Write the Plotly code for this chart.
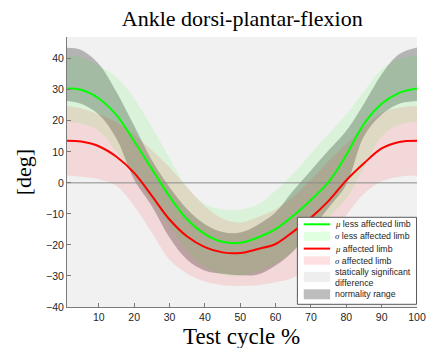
import plotly.graph_objects as go

# ---------------- data ----------------
x_pct = [1, 5, 10, 15, 20, 25, 30, 35, 40, 45, 50, 55, 60, 65, 70, 75, 80, 85, 90, 95, 100]

mu_less = [30.4, 30.0, 27.2, 21.8, 13.4, 4.5, -4.4, -11.8, -16.5, -19.0, -19.3, -17.6,
           -14.9, -10.6, -5.5, 0.3, 9.0, 19.0, 25.5, 29.0, 30.4]
sd_less_hi = [41.0, 40.5, 37.7, 34.0, 27.2, 18.0, 8.0, -1.5, -6.8, -8.6, -8.6, -7.0,
              -2.5, 3.0, 9.5, 15.8, 22.0, 29.5, 36.7, 40.0, 41.0]
sd_less_lo = [19.6, 19.1, 16.8, 10.0, 2.5, -6.0, -14.0, -22.0, -27.0, -29.5, -30.0, -28.5,
              -26.0, -22.0, -17.0, -11.0, -5.0, 5.0, 15.0, 18.8, 19.6]

mu_aff = [13.6, 13.3, 11.8, 8.4, 3.2, -4.2, -11.8, -17.3, -20.7, -22.4, -22.6, -21.3,
          -19.7, -15.7, -11.2, -5.8, 0.8, 6.3, 11.1, 13.2, 13.6]
sd_aff_hi = [24.8, 24.0, 22.1, 19.5, 15.5, 10.5, 5.0, -1.5, -7.5, -11.5, -12.8, -11.0,
             -8.5, -4.5, 1.0, 7.0, 12.5, 18.0, 22.5, 24.3, 24.8]
sd_aff_lo = [2.4, 2.0, 1.2, -1.0, -7.5, -16.0, -24.8, -29.3, -31.8, -33.0, -33.2, -33.0,
             -32.0, -30.5, -25.0, -18.0, -10.5, -3.5, 0.5, 2.0, 2.4]

norm_hi = [43.5, 42.8, 38.3, 29.3, 18.4, 7.3, -1.4, -8.5, -13.3, -15.8, -16.0, -13.5,
           -9.5, -2.5, 4.0, 10.5, 16.8, 25.5, 35.0, 41.5, 43.6]
norm_lo = [26.4, 25.5, 22.0, 14.2, 1.0, -7.5, -17.6, -24.8, -28.3, -29.3, -29.8, -29.5,
           -26.6, -22.0, -15.0, -8.0, -0.5, 15.0, 22.0, 25.5, 26.4]

# statistically significant difference interval (whole cycle)
sig_x = [1, 100]

x_ticks = [10, 20, 30, 40, 50, 60, 70, 80, 90, 100]
y_ticks = [-40, -30, -20, -10, 0, 10, 20, 30, 40]
x_range = [1, 100]
y_range = [-40, 47]

# ---------------- styles ----------------
C_SIG = "#f1f1f1"
C_NORM = "rgba(0,0,0,0.25)"
C_GF = "rgba(0,255,0,0.095)"
C_RF = "rgba(255,0,0,0.10)"
C_G = "#00ff00"
C_R = "#ff0000"
SANS = "Liberation Sans, Arial, sans-serif"
SERIF = "Liberation Serif, Times New Roman, serif"

fig = go.Figure()

def band(xs, lo, hi, color):
    fig.add_trace(go.Scatter(x=xs, y=lo, mode="lines", line=dict(width=0, shape="spline"),
                             hoverinfo="skip", showlegend=False))
    fig.add_trace(go.Scatter(x=xs, y=hi, mode="lines", line=dict(width=0, shape="spline"),
                             fill="tonexty", fillcolor=color, hoverinfo="skip", showlegend=False))

# significance region
band(sig_x, [y_range[0]] * len(sig_x), [y_range[1]] * len(sig_x), C_SIG)
# normality range
band(x_pct, norm_lo, norm_hi, C_NORM)
# sigma bands
band(x_pct, sd_less_lo, sd_less_hi, C_GF)
band(x_pct, sd_aff_lo, sd_aff_hi, C_RF)

# zero reference line
fig.add_trace(go.Scatter(x=x_range, y=[0, 0], mode="lines",
                         line=dict(color="#8a8a8a", width=1), showlegend=False, hoverinfo="skip"))

# means
fig.add_trace(go.Scatter(x=x_pct, y=mu_less, mode="lines",
                         line=dict(color=C_G, width=2, shape="spline"), showlegend=False))
fig.add_trace(go.Scatter(x=x_pct, y=mu_aff, mode="lines",
                         line=dict(color=C_R, width=2, shape="spline"), showlegend=False))

# ---------------- layout ----------------
W, H = 434, 348
ML, MR, MT, MB = 67, 8.5, 36.7, 41.3
PX0, PX1 = ML, W - MR
PY0, PY1 = MT, H - MB

def px(xp):
    return (xp - PX0) / (PX1 - PX0)

def py(yp):
    return (PY1 - yp) / (PY1 - PY0)

axis_common = dict(showline=True, linecolor="#7a7a7a", linewidth=1, ticks="inside",
                   ticklen=4, tickcolor="#7a7a7a", showgrid=False, zeroline=False,
                   tickfont=dict(family=SANS, size=10.5, color="#262626"), mirror=False)

fig.update_layout(
    width=W, height=H,
    margin=dict(l=ML, r=MR, t=MT, b=MB, pad=0),
    paper_bgcolor="white", plot_bgcolor="white",
    showlegend=False,
    xaxis=dict(range=x_range, tickvals=x_ticks, **axis_common),
    yaxis=dict(range=y_range, tickvals=y_ticks, **axis_common),
    title=dict(text="Ankle dorsi-plantar-flexion", x=px(246.5), xref="paper", xanchor="center",
               y=1 - 18.5 / H, yref="container", yanchor="middle",
               font=dict(family=SERIF, size=22, color="black")),
)

shapes = []
annotations = []

# axis titles
annotations.append(dict(text="Test cycle %", x=px(246), y=py(336), xref="paper", yref="paper",
                        xanchor="center", yanchor="middle", showarrow=False,
                        font=dict(family=SERIF, size=23, color="black")))
annotations.append(dict(text="[deg]", x=px(22), y=py(172), xref="paper", yref="paper",
                        xanchor="center", yanchor="middle", showarrow=False, textangle=-90,
                        font=dict(family=SERIF, size=22, color="black")))

# custom compact legend
shapes.append(dict(type="rect", xref="paper", yref="paper", x0=px(303), x1=px(425), y0=py(304), y1=py(217),
                   fillcolor="white", line=dict(color="#5a5a5a", width=1), layer="above"))
SX0, SX1, TX = 309.5, 336.5, 339.0

def leg_line(yc, color):
    shapes.append(dict(type="line", xref="paper", yref="paper", x0=px(SX0), x1=px(SX1), y0=py(yc), y1=py(yc),
                       line=dict(color=color, width=2), layer="above"))

def leg_rect(ya, yb, color):
    shapes.append(dict(type="rect", xref="paper", yref="paper", x0=px(SX0), x1=px(SX1), y0=py(yb), y1=py(ya),
                       fillcolor=color, line=dict(width=0), layer="above"))

def leg_text(yc, txt):
    annotations.append(dict(text=txt, x=px(TX), y=py(yc), xref="paper", yref="paper",
                            xanchor="left", yanchor="middle", showarrow=False,
                            font=dict(family=SANS, size=8.8, color="#262626")))

MU = "<span style='font-family:Liberation Serif, serif;font-style:italic'>μ</span>"
SG = "<span style='font-family:Liberation Serif, serif;font-style:italic'>σ</span>"

leg_line(224, C_G)
leg_text(224, MU + " less affected limb")
leg_rect(231.5, 240.5, "rgba(0,255,0,0.12)")
leg_text(236, SG + " less affected limb")
leg_line(248.3, C_R)
leg_text(248.3, MU + " affected limb")
leg_rect(256, 264.5, "rgba(255,0,0,0.12)")
leg_text(260.3, SG + " affected limb")
leg_rect(271.5, 281.5, "#eeeeee")
leg_text(271.7, "statically significant")
leg_text(282.5, "difference")
leg_rect(289, 299, "#bdbdbd")
leg_text(294, "normality range")

fig.update_layout(shapes=shapes, annotations=annotations)

fig.write_html("out.html")
